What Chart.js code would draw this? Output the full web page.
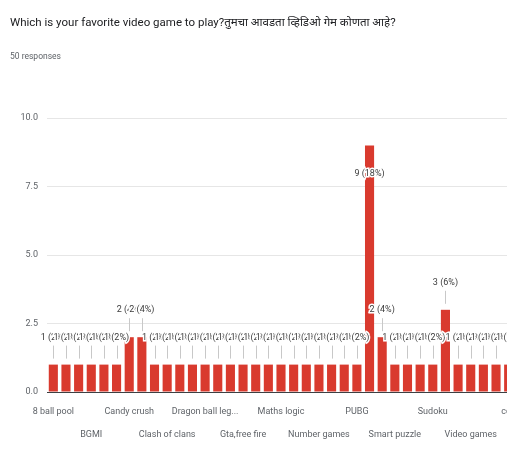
<!DOCTYPE html>
<html><head><meta charset="utf-8">
<script src="https://cdn.jsdelivr.net/npm/chart.js@4"></script>
<style>
html,body{margin:0;padding:0;background:#fff;overflow:hidden;width:507px;height:450px}
#wrap{position:relative;width:520px;height:450px}
</style></head>
<body><div id="wrap"><canvas id="c"></canvas></div>
<script>
const titleText = "Which is your favorite video game to play?तुमचा आवडता व्हिडिओ गेम कोणता आहे?";
const subtitleText = "50 responses";
const categories = ["8 ball pool","Among us","Asphalt 9","BGMI","Bubble shooter","Call of duty","Candy crush","Car racing","Chess","Clash of clans","Clash royale","Cricket","Dragon ball legends","Free fire","GTA V","Gta,free fire","Hill climb racing","Ludo","Maths logic","Minecraft","Mobile legends","Number games","Number puzzle","Other","PUBG","PUBG mobile","Pubg","Smart puzzle","Snake","Subway surfers","Sudoku","Temple run","Tetris","Video games","Word games","bgmi","cod"];
const responses = [1,1,1,1,1,1,2,2,1,1,1,1,1,1,1,1,1,1,1,1,1,1,1,1,1,9,2,1,1,1,1,3,1,1,1,1,1];
const yMax = 10;
const yStep = 2.5;

const FONT = "Roboto,'Noto Sans',sans-serif";
const total = responses.reduce((a,b)=>a+b,0);

const valueLabels = {
  id:'valueLabels',
  afterDatasetsDraw(chart){
    const ctx = chart.ctx;
    const meta = chart.getDatasetMeta(0);
    const area = chart.chartArea;
    ctx.save();
    ctx.font = "9px " + FONT;
    ctx.textAlign = 'center';
    ctx.textBaseline = 'middle';
    const pos = meta.data.map((bar,i)=>{
      let ly = bar.y - 27;
      let inside = false;
      if (ly < area.top + 12) { ly = bar.y + 28; inside = true; }
      return {x:bar.x, top:bar.y, ly, inside};
    });
    ctx.strokeStyle = '#c8c8c8';
    ctx.lineWidth = 1;
    pos.forEach(p=>{
      if (p.inside) return;
      ctx.beginPath();
      ctx.moveTo(Math.round(p.x)+0.5, p.ly+8);
      ctx.lineTo(Math.round(p.x)+0.5, p.top-6);
      ctx.stroke();
    });
    pos.forEach((p,i)=>{
      const v = responses[i];
      const txt = v + " (" + Math.round(v/total*100) + "%)";
      ctx.lineWidth = 3;
      ctx.strokeStyle = '#ffffff';
      ctx.strokeText(txt, p.x, p.ly);
      ctx.fillStyle = '#3c3c3c';
      ctx.fillText(txt, p.x, p.ly);
    });
    ctx.restore();
  }
};

function shortLabel(s){ return s.length > 16 ? s.slice(0,15) + '...' : s; }

new Chart(document.getElementById('c'), {
  type:'bar',
  data:{
    labels:categories,
    datasets:[{
      data:responses,
      backgroundColor:'#d93a2e',
      borderWidth:0,
      barPercentage:0.72,
      categoryPercentage:1.0
    }]
  },
  options:{
    responsive:true,
    maintainAspectRatio:false,
    devicePixelRatio:1,
    animation:false,
    layout:{padding:{left:10,right:5,top:0,bottom:4}},
    plugins:{
      legend:{display:false},
      tooltip:{enabled:false},
      title:{display:true,text:titleText,align:'start',color:'#202124',
        font:{family:FONT,size:11.5,weight:'normal'},padding:{top:16,bottom:22}},
      subtitle:{display:true,text:subtitleText,align:'start',color:'#5f6368',
        font:{family:FONT,size:8.5},padding:{top:0,bottom:56}}
    },
    scales:{
      x:{
        grid:{display:false},
        border:{display:true,color:'#3c4043',width:1},
        ticks:{
          autoSkip:false,maxRotation:0,minRotation:0,padding:0,color:'#5f6368',
          font:{family:FONT,size:9,lineHeight:2.6},
          callback:(v,i)=> i%6===0 ? shortLabel(categories[i]) : (i%6===3 ? ['',shortLabel(categories[i])] : '')
        },
        afterFit:s=>{s.height=54;}
      },
      y:{
        min:0,max:yMax,
        border:{display:false},
        grid:{color:'#e6e6e6',drawTicks:false},
        ticks:{stepSize:yStep,padding:9,color:'#5f6368',font:{family:FONT,size:9},
          callback:v=>v.toFixed(1)},
        afterFit:s=>{s.width=37;}
      }
    }
  },
  plugins:[valueLabels]
});
</script>
</body></html>
